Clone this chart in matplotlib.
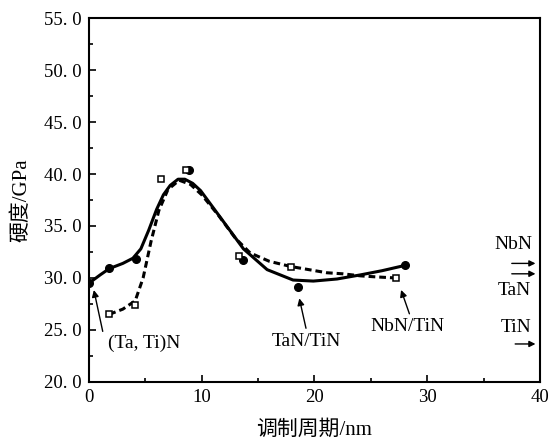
import matplotlib
matplotlib.use("Agg")
import matplotlib.pyplot as plt
from matplotlib.ticker import MultipleLocator, FuncFormatter

# ---- data ----
tan_x = [0.0, 1.8, 4.2, 8.9, 13.7, 18.5, 28.0]
tan_y = [29.5, 31.0, 31.8, 40.4, 31.7, 29.1, 31.2]

nbn_x = [1.8, 4.1, 6.4, 8.6, 13.3, 17.9, 27.2]
nbn_y = [26.5, 27.4, 39.5, 40.4, 32.1, 31.1, 30.0]

solid_x = [0.0, 1.0, 1.8, 3.0, 3.9, 4.6, 5.3, 6.0, 6.6, 7.2, 7.9, 8.5, 9.2, 9.9, 11.6, 13.7, 15.8, 18.1, 19.9, 22.0, 24.1, 26.0, 28.0]
solid_y = [29.5, 30.3, 30.9, 31.4, 31.9, 32.8, 34.6, 36.6, 38.0, 38.9, 39.5, 39.5, 39.1, 38.4, 35.9, 32.8, 30.8, 29.8, 29.7, 29.9, 30.3, 30.7, 31.2]

dash_x = [1.8, 3.0, 4.1, 4.8, 5.5, 6.2, 7.0, 8.0, 9.0, 10.0, 11.5, 13.0, 14.3, 16.0, 17.9, 19.5, 21.1, 22.5, 24.1, 25.5, 27.2]
dash_y = [26.5, 27.0, 27.8, 30.0, 33.5, 36.5, 38.5, 39.4, 39.0, 38.0, 36.0, 33.8, 32.4, 31.6, 31.1, 30.8, 30.5, 30.4, 30.2, 30.1, 30.0]

serif = ['Liberation Serif', 'Noto Sans CJK SC', 'DejaVu Sans']
plt.rcParams['font.family'] = serif

fig = plt.figure(figsize=(5.51, 4.41), dpi=100)
ax = fig.add_axes([0.1615, 0.134, 0.8185, 0.825])

ax.plot(solid_x, solid_y, color='black', lw=2.2, solid_capstyle='round', solid_joinstyle='round')
ax.plot(dash_x, dash_y, color='black', lw=2.2, ls=(0, (2.2, 1.3)))
ax.plot(tan_x, tan_y, 'o', color='black', ms=5.5, zorder=3)
ax.plot(nbn_x, nbn_y, 's', mfc='white', mec='black', mew=1.1, ms=5, zorder=4)

ax.set_xlim(0, 40)
ax.set_ylim(20, 55)
ax.xaxis.set_major_locator(MultipleLocator(10))
ax.xaxis.set_minor_locator(MultipleLocator(5))
ax.yaxis.set_major_locator(MultipleLocator(5))
ax.yaxis.set_minor_locator(MultipleLocator(2.5))
ax.yaxis.set_major_formatter(FuncFormatter(lambda v, p: ("%.1f" % v).replace('.', '. ')))
ax.tick_params(which='both', direction='in', top=False, right=False, labelsize=13.5, width=1.2)
ax.tick_params(which='major', length=5, pad=5)
ax.tick_params(which='minor', length=3)
for s in ax.spines.values():
    s.set_linewidth(1.5)

ax.set_xlabel('调制周期/nm', fontsize=15, labelpad=10)
ax.set_ylabel('硬度/GPa', fontsize=15, labelpad=9)

arrowprops = dict(arrowstyle='-|>', color='black', lw=1.0, mutation_scale=10)
ax.annotate('', xy=(0.38, 29.1), xytext=(1.27, 24.6), arrowprops=arrowprops)
ax.text(4.9, 23.75, '(Ta, Ti)N', fontsize=14, ha='center', va='center')
ax.annotate('', xy=(18.6, 28.3), xytext=(19.3, 24.9), arrowprops=arrowprops)
ax.text(19.3, 23.9, 'TaN/TiN', fontsize=14, ha='center', va='center')
ax.annotate('', xy=(27.6, 29.1), xytext=(28.5, 26.3), arrowprops=arrowprops)
ax.text(28.25, 25.3, 'NbN/TiN', fontsize=14, ha='center', va='center')

ax.text(37.6, 33.2, 'NbN', fontsize=14, ha='center', va='center')
ax.text(37.7, 28.8, 'TaN', fontsize=14, ha='center', va='center')
ax.text(37.85, 25.2, 'TiN', fontsize=14, ha='center', va='center')
arrow2 = dict(arrowstyle='-|>', color='black', lw=1.0, mutation_scale=9, shrinkA=0, shrinkB=0)
ax.annotate('', xy=(39.6, 31.4), xytext=(37.5, 31.4), arrowprops=arrow2)
ax.annotate('', xy=(39.6, 30.4), xytext=(37.5, 30.4), arrowprops=arrow2)
ax.annotate('', xy=(39.6, 23.65), xytext=(37.8, 23.65), arrowprops=arrow2)

fig.savefig('out.png', dpi=100)
